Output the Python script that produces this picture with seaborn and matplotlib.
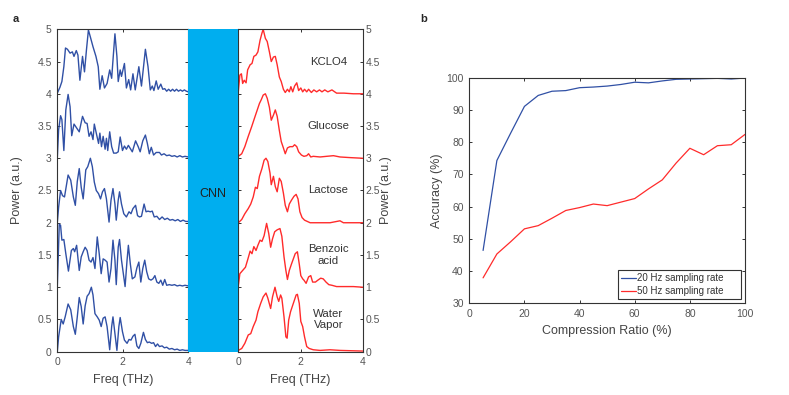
import numpy as np
import pandas as pd
import matplotlib
matplotlib.use("Agg")
import matplotlib.pyplot as plt
from matplotlib.patches import Rectangle
import seaborn as sns

# ---- panel a: measured spectra (blue) and CNN output spectra (red), offset by sample ----
samples = ["Water\nVapor", "Benzoic\nacid", "Lactose", "Glucose", "KCLO4"]
offsets = [0, 1, 2, 3, 4]

meas_f_water = [0, 0.04, 0.12, 0.18, 0.24, 0.33, 0.41, 0.49, 0.55, 0.61, 0.67, 0.73, 0.79, 0.85, 0.91, 0.97, 1.04, 1.09, 1.15, 1.22, 1.28, 1.34, 1.40, 1.46, 1.52, 1.60, 1.66, 1.70, 1.76, 1.82, 1.88, 1.92, 1.99, 2.05, 2.13, 2.19, 2.25, 2.31, 2.37, 2.43, 2.49, 2.55, 2.63, 2.69, 2.75, 2.81, 2.88, 2.94, 3.00, 3.06, 3.12, 3.20, 3.27, 3.34, 3.42, 3.50, 3.58, 3.66, 3.74, 3.82, 3.90, 4.0]
meas_p_water = [0.0, 0.23, 0.50, 0.43, 0.54, 0.74, 0.65, 0.39, 0.27, 0.54, 0.84, 0.70, 0.43, 0.71, 0.86, 0.90, 1.0, 0.88, 0.59, 0.54, 0.49, 0.39, 0.52, 0.54, 0.39, 0.03, 0.39, 0.54, 0.28, 0.02, 0.39, 0.53, 0.31, 0.18, 0.13, 0.19, 0.18, 0.24, 0.27, 0.09, 0.05, 0.13, 0.30, 0.19, 0.14, 0.15, 0.13, 0.14, 0.08, 0.12, 0.08, 0.09, 0.06, 0.07, 0.04, 0.05, 0.03, 0.04, 0.02, 0.03, 0.02, 0.02]

meas_f_benzoic = [0, 0.06, 0.10, 0.14, 0.20, 0.26, 0.34, 0.43, 0.49, 0.53, 0.59, 0.67, 0.73, 0.79, 0.85, 0.91, 0.97, 1.03, 1.09, 1.15, 1.22, 1.28, 1.34, 1.40, 1.46, 1.52, 1.58, 1.64, 1.70, 1.76, 1.80, 1.86, 1.90, 1.96, 2.07, 2.13, 2.17, 2.23, 2.29, 2.37, 2.43, 2.49, 2.55, 2.61, 2.67, 2.73, 2.79, 2.86, 2.92, 2.98, 3.04, 3.10, 3.16, 3.22, 3.28, 3.34, 3.42, 3.50, 3.58, 3.66, 3.74, 3.82, 3.90, 4.0]
meas_p_benzoic = [0.0, 0.98, 0.96, 0.73, 0.74, 0.52, 0.25, 0.57, 0.60, 0.55, 0.65, 0.26, 0.47, 0.55, 0.62, 0.57, 0.42, 0.39, 0.46, 0.29, 0.78, 0.52, 0.21, 0.44, 0.42, 0.39, 0.08, 0.29, 0.73, 0.42, 0.04, 0.62, 0.74, 0.42, 0.01, 0.42, 0.65, 0.36, 0.13, 0.16, 0.30, 0.39, 0.08, 0.29, 0.42, 0.24, 0.13, 0.11, 0.13, 0.18, 0.08, 0.06, 0.11, 0.03, 0.12, 0.03, 0.04, 0.03, 0.04, 0.02, 0.03, 0.02, 0.03, 0.02]

meas_f_lactose = [0, 0.04, 0.10, 0.16, 0.22, 0.33, 0.41, 0.49, 0.55, 0.61, 0.67, 0.73, 0.79, 0.87, 0.93, 1.01, 1.07, 1.13, 1.19, 1.26, 1.32, 1.38, 1.44, 1.50, 1.58, 1.64, 1.70, 1.76, 1.80, 1.86, 1.90, 1.96, 2.03, 2.11, 2.19, 2.25, 2.31, 2.39, 2.45, 2.51, 2.57, 2.65, 2.71, 2.77, 2.84, 2.90, 2.96, 3.04, 3.12, 3.20, 3.28, 3.36, 3.44, 3.52, 3.60, 3.68, 3.76, 3.84, 3.92, 4.0]
meas_p_lactose = [0.0, 0.24, 0.50, 0.42, 0.40, 0.74, 0.66, 0.40, 0.27, 0.64, 0.84, 0.55, 0.37, 0.82, 0.87, 1.0, 0.87, 0.63, 0.50, 0.45, 0.37, 0.48, 0.53, 0.37, 0.01, 0.35, 0.53, 0.29, 0.04, 0.35, 0.48, 0.29, 0.14, 0.09, 0.17, 0.14, 0.22, 0.27, 0.11, 0.09, 0.10, 0.29, 0.17, 0.18, 0.17, 0.18, 0.09, 0.10, 0.05, 0.09, 0.05, 0.07, 0.04, 0.05, 0.03, 0.05, 0.02, 0.04, 0.02, 0.02]

meas_f_glucose = [0, 0.04, 0.10, 0.14, 0.20, 0.26, 0.33, 0.39, 0.44, 0.51, 0.59, 0.67, 0.77, 0.85, 0.91, 0.97, 1.03, 1.09, 1.13, 1.19, 1.26, 1.30, 1.35, 1.40, 1.46, 1.50, 1.54, 1.60, 1.66, 1.72, 1.80, 1.86, 1.92, 1.99, 2.05, 2.11, 2.17, 2.23, 2.29, 2.39, 2.47, 2.53, 2.61, 2.69, 2.75, 2.81, 2.87, 2.94, 3.02, 3.12, 3.18, 3.26, 3.34, 3.42, 3.50, 3.58, 3.66, 3.74, 3.82, 3.90, 4.0]
meas_p_glucose = [0.0, 0.44, 0.66, 0.60, 0.12, 0.75, 0.99, 0.80, 0.35, 0.53, 0.47, 0.41, 0.65, 0.55, 0.54, 0.34, 0.41, 0.29, 0.53, 0.39, 0.23, 0.39, 0.18, 0.34, 0.14, 0.31, 0.12, 0.41, 0.18, 0.08, 0.08, 0.10, 0.33, 0.12, 0.19, 0.14, 0.20, 0.15, 0.10, 0.27, 0.18, 0.10, 0.27, 0.36, 0.23, 0.07, 0.17, 0.05, 0.09, 0.09, 0.05, 0.07, 0.04, 0.05, 0.03, 0.04, 0.02, 0.04, 0.02, 0.03, 0.02]

meas_f_kclo4 = [0, 0.08, 0.14, 0.2, 0.25, 0.31, 0.39, 0.46, 0.51, 0.58, 0.63, 0.69, 0.77, 0.83, 0.89, 0.95, 1.01, 1.09, 1.18, 1.25, 1.30, 1.37, 1.44, 1.52, 1.60, 1.66, 1.70, 1.76, 1.82, 1.86, 1.92, 1.96, 2.05, 2.11, 2.18, 2.24, 2.31, 2.38, 2.49, 2.57, 2.69, 2.77, 2.84, 2.90, 2.95, 3.02, 3.08, 3.16, 3.22, 3.28, 3.34, 3.40, 3.46, 3.52, 3.58, 3.64, 3.70, 3.76, 3.82, 3.88, 3.94, 4.0]
meas_p_kclo4 = [0.01, 0.10, 0.19, 0.42, 0.71, 0.69, 0.63, 0.65, 0.58, 0.67, 0.60, 0.21, 0.58, 0.34, 0.68, 0.99, 0.88, 0.73, 0.58, 0.42, 0.07, 0.28, 0.09, 0.16, 0.37, 0.24, 0.52, 0.93, 0.58, 0.19, 0.37, 0.27, 0.47, 0.09, 0.22, 0.06, 0.31, 0.06, 0.42, 0.12, 0.69, 0.42, 0.06, 0.12, 0.05, 0.20, 0.07, 0.15, 0.07, 0.08, 0.04, 0.07, 0.04, 0.07, 0.04, 0.07, 0.04, 0.06, 0.04, 0.06, 0.04, 0.03]

cnn_f_water = [0, 0.11, 0.21, 0.32, 0.40, 0.48, 0.57, 0.63, 0.72, 0.80, 0.89, 0.95, 1.04, 1.10, 1.18, 1.25, 1.30, 1.36, 1.40, 1.47, 1.53, 1.57, 1.62, 1.68, 1.77, 1.86, 1.90, 1.96, 2.01, 2.07, 2.13, 2.20, 2.28, 2.41, 2.63, 2.95, 3.27, 4.0]
cnn_p_water = [0.02, 0.05, 0.13, 0.26, 0.28, 0.39, 0.49, 0.62, 0.75, 0.85, 0.91, 0.83, 0.67, 0.85, 1.0, 0.85, 0.78, 0.88, 0.83, 0.54, 0.23, 0.21, 0.49, 0.62, 0.75, 0.88, 0.89, 0.75, 0.47, 0.39, 0.23, 0.08, 0.05, 0.03, 0.02, 0.03, 0.02, 0.01]

cnn_f_benzoic = [0, 0.05, 0.14, 0.23, 0.31, 0.38, 0.44, 0.50, 0.57, 0.63, 0.70, 0.76, 0.83, 0.91, 0.98, 1.04, 1.10, 1.17, 1.25, 1.34, 1.40, 1.47, 1.53, 1.58, 1.64, 1.71, 1.77, 1.83, 1.90, 1.96, 2.01, 2.07, 2.11, 2.18, 2.26, 2.33, 2.39, 2.48, 2.56, 2.65, 2.73, 2.82, 2.91, 3.01, 3.16, 3.38, 3.70, 4.0]
cnn_p_benzoic = [0.02, 0.21, 0.26, 0.31, 0.44, 0.56, 0.52, 0.63, 0.57, 0.65, 0.73, 0.71, 0.80, 0.99, 0.83, 0.62, 0.75, 0.86, 0.89, 0.91, 0.79, 0.47, 0.26, 0.12, 0.26, 0.36, 0.44, 0.52, 0.55, 0.36, 0.18, 0.13, 0.11, 0.06, 0.16, 0.18, 0.08, 0.08, 0.11, 0.14, 0.13, 0.08, 0.04, 0.03, 0.01, 0.01, 0.01, 0.0]

cnn_f_lactose = [0, 0.11, 0.21, 0.32, 0.40, 0.48, 0.55, 0.61, 0.68, 0.76, 0.83, 0.89, 0.95, 1.02, 1.06, 1.13, 1.19, 1.25, 1.32, 1.38, 1.45, 1.51, 1.58, 1.64, 1.71, 1.79, 1.86, 1.92, 1.98, 2.05, 2.13, 2.31, 2.63, 2.95, 3.27, 3.38, 4.0]
cnn_p_lactose = [0.0, 0.05, 0.14, 0.22, 0.29, 0.40, 0.55, 0.53, 0.72, 0.84, 0.97, 1.0, 0.95, 0.77, 0.59, 0.72, 0.56, 0.48, 0.69, 0.64, 0.46, 0.27, 0.17, 0.29, 0.35, 0.41, 0.44, 0.37, 0.17, 0.08, 0.04, 0.0, 0.0, 0.0, 0.03, 0.0, 0.0]

cnn_f_glucose = [0, 0.11, 0.21, 0.32, 0.43, 0.54, 0.61, 0.68, 0.74, 0.80, 0.87, 0.93, 1.00, 1.06, 1.13, 1.19, 1.25, 1.32, 1.38, 1.45, 1.51, 1.58, 1.66, 1.75, 1.81, 1.88, 1.94, 2.03, 2.11, 2.20, 2.26, 2.33, 2.41, 2.63, 2.84, 3.06, 3.27, 3.60, 4.0]
cnn_p_glucose = [0.03, 0.07, 0.18, 0.34, 0.49, 0.65, 0.75, 0.85, 0.91, 0.98, 1.0, 0.93, 0.79, 0.59, 0.67, 0.75, 0.65, 0.43, 0.26, 0.16, 0.07, 0.16, 0.18, 0.18, 0.21, 0.18, 0.10, 0.05, 0.03, 0.04, 0.07, 0.02, 0.03, 0.02, 0.03, 0.04, 0.02, 0.01, 0.0]

cnn_f_kclo4 = [0, 0.05, 0.10, 0.14, 0.19, 0.25, 0.30, 0.38, 0.44, 0.50, 0.57, 0.63, 0.70, 0.76, 0.80, 0.87, 0.93, 1.00, 1.06, 1.13, 1.19, 1.25, 1.32, 1.38, 1.45, 1.51, 1.58, 1.64, 1.69, 1.75, 1.81, 1.88, 1.94, 2.01, 2.07, 2.13, 2.20, 2.26, 2.35, 2.43, 2.52, 2.61, 2.69, 2.78, 2.88, 3.01, 3.16, 3.40, 3.70, 4.0]
cnn_p_kclo4 = [0.03, 0.29, 0.31, 0.16, 0.21, 0.17, 0.37, 0.45, 0.47, 0.58, 0.60, 0.65, 0.83, 0.94, 1.0, 0.86, 0.81, 0.65, 0.50, 0.57, 0.58, 0.45, 0.26, 0.19, 0.07, 0.02, 0.07, 0.03, 0.11, 0.03, 0.12, 0.17, 0.05, 0.09, 0.03, 0.07, 0.03, 0.07, 0.02, 0.06, 0.03, 0.06, 0.03, 0.06, 0.03, 0.06, 0.01, 0.01, 0.0, 0.0]

# ---- panel b: accuracy vs compression ratio ----
ratio = [5, 10, 15, 20, 25, 30, 35, 40, 45, 50, 55, 60, 65, 70, 75, 80, 85, 90, 95, 100]
acc_20hz = [46.4, 74.3, 82.8, 91.1, 94.5, 95.8, 96.0, 96.9, 97.1, 97.4, 97.9, 98.6, 98.4, 99.0, 99.5, 99.6, 99.7, 99.8, 99.6, 99.9]
acc_50hz = [37.9, 45.3, 49.1, 53.1, 54.1, 56.4, 58.8, 59.7, 60.8, 60.3, 61.4, 62.5, 65.5, 68.3, 73.5, 78.1, 76.1, 78.9, 79.2, 82.4]

BLUE = "#3050A5"
RED = "#FF2B2B"
CYAN = "#00AEEF"

sns.set_theme(style="ticks", rc={
    "axes.edgecolor": "#333333", "axes.linewidth": 0.8,
    "xtick.direction": "in", "ytick.direction": "in",
    "xtick.major.size": 2.5, "ytick.major.size": 2.5,
    "xtick.major.width": 0.7, "ytick.major.width": 0.7,
    "xtick.color": "#333333", "ytick.color": "#333333",
    "xtick.labelcolor": "#555555", "ytick.labelcolor": "#555555",
    "xtick.labelsize": 7.5, "ytick.labelsize": 7.5,
    "xtick.major.pad": 4, "ytick.major.pad": 4,
    "axes.labelsize": 9, "axes.labelcolor": "#444444",
})
plt.rcParams["font.family"] = ["Liberation Sans", "DejaVu Sans"]

W, H = 789, 395
fig = plt.figure(figsize=(7.89, 3.95), dpi=100)

def px_axes(x0, y0, x1, y1):
    return fig.add_axes([x0 / W, 1 - y1 / H, (x1 - x0) / W, (y1 - y0) / H])

ax_m = px_axes(57.3, 29.3, 188.3, 351.7)
ax_c = px_axes(238.3, 29.3, 362.7, 351.7)
ax_b = px_axes(469.3, 77.7, 745.0, 303.3)

measured = [(meas_f_water, meas_p_water), (meas_f_benzoic, meas_p_benzoic),
            (meas_f_lactose, meas_p_lactose), (meas_f_glucose, meas_p_glucose),
            (meas_f_kclo4, meas_p_kclo4)]
predicted = [(cnn_f_water, cnn_p_water), (cnn_f_benzoic, cnn_p_benzoic),
             (cnn_f_lactose, cnn_p_lactose), (cnn_f_glucose, cnn_p_glucose),
             (cnn_f_kclo4, cnn_p_kclo4)]

for (f, p), off in zip(measured, offsets):
    sns.lineplot(x=f, y=np.array(p) + off, ax=ax_m, color=BLUE, lw=1.0, sort=False)
for (f, p), off in zip(predicted, offsets):
    sns.lineplot(x=f, y=np.array(p) + off, ax=ax_c, color=RED, lw=1.0, sort=False)

yt = np.arange(0, 5.01, 0.5)
for ax in (ax_m, ax_c):
    ax.set_xlim(0, 4)
    ax.set_ylim(0, 5)
    ax.set_xticks([0, 2, 4])
    ax.set_yticks(yt)
    ax.set_yticklabels(["%g" % v for v in yt])
    ax.set_xlabel("Freq (THz)")
    ax.set_ylabel("Power (a.u.)")
    ax.xaxis.set_label_coords(0.5, -0.068)
    ax.tick_params(top=True, bottom=True, left=True, right=True)

ax_m.tick_params(labelleft=True, labelright=False)
ax_m.yaxis.set_label_coords(-0.262, 0.5)
ax_c.tick_params(axis="y", labelleft=False, labelright=True, pad=2)
ax_c.yaxis.set_label_position("right")
ax_c.yaxis.set_label_coords(1.14, 0.5)

for name, off in zip(samples, offsets):
    ax_c.text(2.9, off + 0.5, name, ha="center", va="center", fontsize=8.2,
              color="#333333", linespacing=1.15)

# CNN block between the two spectra panels
fig.patches.append(Rectangle((188.3 / W, 1 - 351.7 / H), 50 / W, 322.4 / H,
                             transform=fig.transFigure, facecolor=CYAN,
                             edgecolor="none", zorder=3))
fig.text(213.3 / W, 1 - 194 / H, "CNN", ha="center", va="center", fontsize=9,
         color="#222222", zorder=4)

# panel b
df = pd.DataFrame({
    "ratio": ratio * 2,
    "acc": acc_20hz + acc_50hz,
    "rate": ["20 Hz sampling rate"] * len(ratio) + ["50 Hz sampling rate"] * len(ratio),
})
sns.lineplot(data=df, x="ratio", y="acc", hue="rate", palette=[BLUE, RED],
             lw=0.9, ax=ax_b)
ax_b.set_xlim(0, 100)
ax_b.set_ylim(30, 100)
ax_b.set_xticks(range(0, 101, 20))
ax_b.set_yticks(range(30, 101, 10))
ax_b.tick_params(top=True, right=True)
ax_b.set_xlabel("Compression Ratio (%)")
ax_b.set_ylabel("Accuracy (%)")
ax_b.xaxis.set_label_coords(0.5, -0.097)
ax_b.yaxis.set_label_coords(-0.095, 0.5)
leg = ax_b.legend(loc="lower left", bbox_to_anchor=(0.539, 0.019, 0.4465, 0.1),
                  mode="expand", borderaxespad=0, fontsize=7, handlelength=1.55,
                  handletextpad=0.15, borderpad=0.3, labelspacing=0.3,
                  fancybox=False, framealpha=1, edgecolor="#333333")
leg.get_frame().set_linewidth(0.8)
for t in leg.get_texts():
    t.set_color("#333333")

fig.text(13 / W, 1 - 21.7 / H, "a", fontsize=8, fontweight="bold", va="baseline")
fig.text(420 / W, 1 - 21.7 / H, "b", fontsize=8, fontweight="bold", va="baseline")

fig.savefig("out.png", dpi=100)
